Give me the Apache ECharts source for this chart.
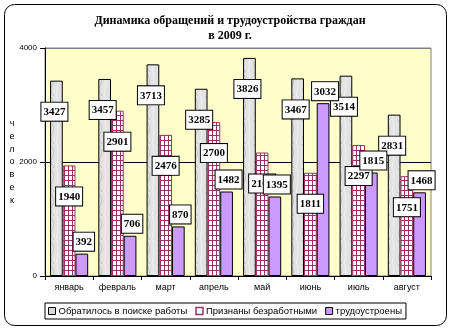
<!DOCTYPE html>
<html>
<head>
<meta charset="utf-8">
<script src="https://cdn.jsdelivr.net/npm/echarts@6/dist/echarts.min.js"></script>
<style>html,body{margin:0;padding:0;background:#fff}#c{width:450px;height:329px}</style>
</head>
<body>
<div id="c"></div>
<script>
var months = ['январь','февраль','март','апрель','май','июнь','июль','август'];
var applied = [3427, 3457, 3713, 3285, 3826, 3467, 3514, 2831];
var unemployed = [1940, 2901, 2476, 2700, 2166, 1811, 2297, 1751];
var employed = [392, 706, 870, 1482, 1395, 3032, 1815, 1468];
var seriesNames = ['Обратилось в поиске работы', 'Признаны безработными', 'трудоустроены'];
var yTicks = [0, 2000, 4000];

// grid pattern for the "unemployed" bars
var pc = document.createElement('canvas');
pc.width = 4; pc.height = 5;
var pctx = pc.getContext('2d');
pctx.fillStyle = '#ffffff'; pctx.fillRect(0,0,4,5);
pctx.fillStyle = '#993366';
pctx.fillRect(0,0,1,5);
pctx.fillRect(0,0,4,1);

// light marble-like gray texture (deterministic)
var gc = document.createElement('canvas');
gc.width = 12; gc.height = 24;
var g = gc.getContext('2d');
g.fillStyle = '#e2e2e2'; g.fillRect(0,0,12,24);
g.strokeStyle = '#c4c4c4'; g.lineWidth = 1;
g.beginPath(); g.moveTo(2,0); g.quadraticCurveTo(8,8,4,14); g.quadraticCurveTo(1,19,6,24); g.stroke();
g.strokeStyle = '#f2f2f2';
g.beginPath(); g.moveTo(9,0); g.quadraticCurveTo(11,10,8,24); g.stroke();

var labelFont = {fontFamily:'"Liberation Serif","Times New Roman",serif', fontWeight:'bold', fontSize:11,
  color:'#000', backgroundColor:'#fff', borderColor:'#000', borderWidth:1, padding:[4,2,3,2]};

var chart = echarts.init(document.getElementById('c'), null, {renderer:'canvas'});
chart.setOption({
  animation:false,
  backgroundColor:'#fff',
  graphic:[
    {type:'rect', shape:{x:4.5,y:4.5,width:442,height:321,r:10}, style:{fill:'none',stroke:'#000',lineWidth:1}, z:100},
    {type:'text', x:230, y:13, style:{text:'Динамика обращений и трудоустройства граждан\nв 2009 г.', textAlign:'center',
      font:'bold 12px "Liberation Serif"', lineHeight:15, fill:'#000'}},
    {type:'text', x:12, y:162, style:{text:'ч\nе\nл\nо\nв\nе\nк', textAlign:'center', textVerticalAlign:'middle',
      font:'9px "Liberation Sans"', lineHeight:12.7, fill:'#000'}}
  ],
  grid:{left:45, right:19, top:48, bottom:53, show:true, backgroundColor:'#ffffcc', borderColor:'#808080', borderWidth:1},
  legend:{
    left:45, top:303, width:420, padding:[3,4,3,3], borderColor:'#000', borderWidth:1, backgroundColor:'#fff',
    itemWidth:7, itemHeight:7, itemGap:8, icon:'rect',
    textStyle:{fontFamily:'"Liberation Sans",Arial', fontSize:9.5, color:'#000', padding:[0,0,0,-2]},
    data:[
      {name:seriesNames[0], itemStyle:{color:'#d9d9d9', borderColor:'#000', borderWidth:1}},
      {name:seriesNames[1], itemStyle:{color:'#fff', borderColor:'#993366', borderWidth:1.5}},
      {name:seriesNames[2], itemStyle:{color:'#cc99ff', borderColor:'#000', borderWidth:1}}
    ]
  },
  xAxis:{type:'category', data:months,
    axisLine:{lineStyle:{color:'#000'}},
    axisTick:{show:true, length:4, interval:0, lineStyle:{color:'#000'}},
    axisLabel:{interval:0, fontFamily:'"Liberation Sans",Arial', fontSize:9, color:'#000', margin:7}
  },
  yAxis:{type:'value', min:yTicks[0], max:yTicks[2], interval:yTicks[1]-yTicks[0],
    axisLine:{show:true, lineStyle:{color:'#000'}},
    axisTick:{show:true, length:5, lineStyle:{color:'#000'}},
    axisLabel:{formatter:function(v){return String(v);}, fontFamily:'"Liberation Sans",Arial', fontSize:8, color:'#000', margin:8},
    splitLine:{show:true, lineStyle:{color:['#000','#000','#808080'], width:1}}
  },
  series:[
    {name:seriesNames[0], type:'bar', data:applied, barGap:'0%', barCategoryGap:'21%',
      itemStyle:{color:{image:gc, repeat:'repeat'}, borderColor:'#000', borderWidth:1},
      label:Object.assign({show:true, position:'top', offset:[-2,45]}, labelFont)},
    {name:seriesNames[1], type:'bar', data:unemployed,
      itemStyle:{color:{image:pc, repeat:'repeat'}, borderColor:'#993366', borderWidth:1},
      label:Object.assign({show:true, position:'top', offset:[0,45]}, labelFont)},
    {name:seriesNames[2], type:'bar', data:employed,
      itemStyle:{color:'#cc99ff', borderColor:'#000', borderWidth:1},
      label:Object.assign({show:true, position:'top', offset:[2,2]}, labelFont)}
  ]
});
</script>
</body>
</html>
